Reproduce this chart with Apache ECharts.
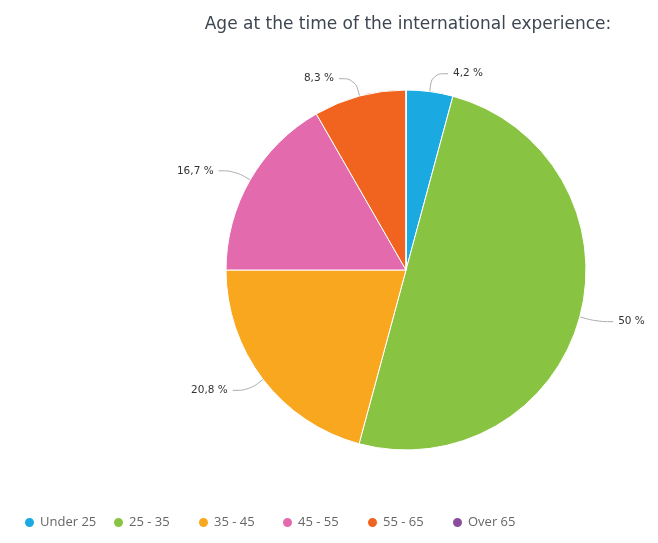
<!DOCTYPE html>
<html>
<head>
<meta charset="utf-8">
<script src="https://cdn.jsdelivr.net/npm/echarts@6/dist/echarts.min.js"></script>
<style>
  html, body { margin: 0; padding: 0; background: #fff; }
  #chart { width: 658px; height: 543px; }
</style>
</head>
<body>
<div id="chart"></div>
<script>
// Age groups and their share of respondents (%)
const categories = ['Under 25', '25 - 35', '35 - 45', '45 - 55', '55 - 65', 'Over 65'];
const shares = [4.2, 50, 20.8, 16.7, 8.3, 0];
const colors = ['#1aa9e0', '#88c441', '#f8a71f', '#e36bad', '#f0641f', '#8a4d9e'];

const chart = echarts.init(document.getElementById('chart'));

const fmt = v => String(v).replace('.', ',') + ' %';

// one legend entry per age group, laid out on a fixed 85px pitch
const legendLeft = [18, 107, 192, 276, 361, 446];
const legends = categories.map((c, i) => ({
  top: 511,
  left: legendLeft[i],
  icon: 'circle',
  itemWidth: 11,
  itemHeight: 11,
  textStyle: { fontFamily: 'Open Sans', fontSize: 13, color: '#666' },
  data: [c]
}));

chart.setOption({
  animation: false,
  title: {
    text: 'Age at the time of the international experience:',
    left: 403,
    top: 11,
    textAlign: 'center',
    textStyle: { fontFamily: 'DejaVu Sans', fontSize: 17, fontWeight: 'normal', color: '#3d4650' }
  },
  legend: legends,
  color: colors,
  series: [{
    type: 'pie',
    center: [406, 270],
    radius: 180,
    startAngle: 90,
    clockwise: true,
    itemStyle: { borderColor: '#fff', borderWidth: 1 },
    label: {
      show: true,
      overflow: 'none',
      formatter: p => (p.value > 0 ? fmt(p.value) : ''),
      fontFamily: 'DejaVu Sans',
      fontSize: 10.5,
      color: '#333'
    },
    labelLine: {
      show: true,
      length: 18,
      length2: 16,
      smooth: 0.4,
      lineStyle: { color: '#aaa', width: 1 }
    },
    data: categories.map((c, i) => ({
      name: c,
      value: shares[i],
      label: { show: shares[i] > 0 },
      labelLine: { show: shares[i] > 0 }
    }))
  }]
});
</script>
</body>
</html>
